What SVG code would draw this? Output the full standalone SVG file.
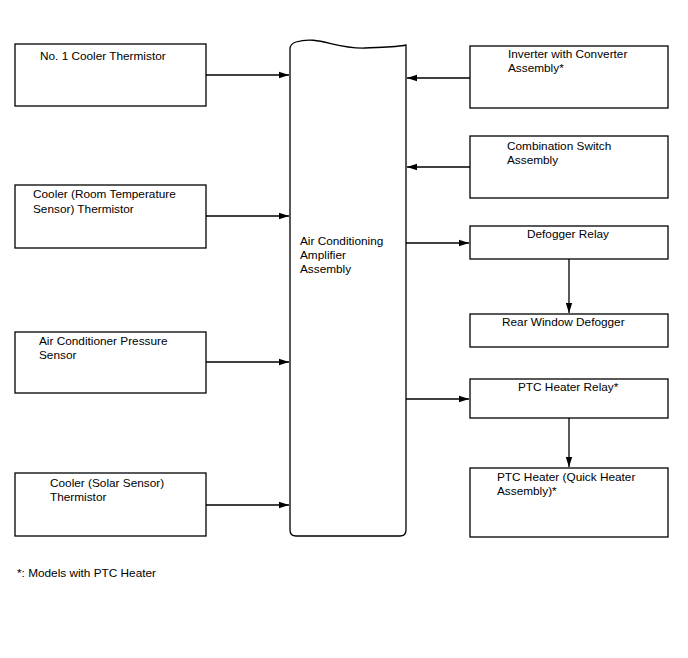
<svg xmlns="http://www.w3.org/2000/svg" width="688" height="658" viewBox="0 0 688 658">
<style>
.box{fill:#fff;stroke:#000;stroke-width:1.3}
.t{font-family:"Liberation Sans",Arial,sans-serif;font-size:11.8px;fill:#000}
.c{stroke:#000;stroke-width:1.3;fill:none;marker-end:url(#ah)}
</style>
<defs>
<marker id="ah" markerWidth="10" markerHeight="8" refX="10" refY="4" orient="auto" markerUnits="userSpaceOnUse">
<path d="M0,0.8 L10,4 L0,7.2 Z" fill="#000"/>
</marker>
</defs>
<rect width="688" height="658" fill="#fff"/>
<g id="connectors">
<line class="c" x1="206" y1="75" x2="289" y2="75"/>
<line class="c" x1="206" y1="216" x2="289" y2="216"/>
<line class="c" x1="206" y1="362" x2="289" y2="362"/>
<line class="c" x1="206" y1="505" x2="289" y2="505"/>
<line class="c" x1="470" y1="78" x2="407" y2="78"/>
<line class="c" x1="470" y1="167" x2="407" y2="167"/>
<line class="c" x1="406" y1="243" x2="469" y2="243"/>
<line class="c" x1="406" y1="399" x2="469" y2="399"/>
<line class="c" x1="569" y1="259" x2="569" y2="313"/>
<line class="c" x1="569" y1="418" x2="569" y2="467"/>
</g>
<g id="n1"><rect class="box" x="15" y="44" width="191" height="62"/><text class="t" x="40" y="60">No. 1 Cooler Thermistor</text></g>
<g id="n2"><rect class="box" x="15" y="185" width="191" height="63"/><text class="t" x="33" y="198">Cooler (Room Temperature</text><text class="t" x="33" y="213">Sensor) Thermistor</text></g>
<g id="n3"><rect class="box" x="15" y="332" width="191" height="61"/><text class="t" x="39" y="345">Air Conditioner Pressure</text><text class="t" x="39" y="359">Sensor</text></g>
<g id="n4"><rect class="box" x="15" y="473" width="191" height="63"/><text class="t" x="50" y="487">Cooler (Solar Sensor)</text><text class="t" x="50" y="501">Thermistor</text></g>
<g id="amp"><path class="box" d="M290,49 Q290,44 296,42 C318,35 335,49 365,48 C388,47 398,47 406,45 L406,530 Q406,536 400,536 L296,536 Q290,536 290,530 Z"/><text class="t" x="300" y="245">Air Conditioning</text><text class="t" x="300" y="259">Amplifier</text><text class="t" x="300" y="273">Assembly</text></g>
<g id="r1"><rect class="box" x="470" y="46" width="198" height="62"/><text class="t" x="508" y="58">Inverter with Converter</text><text class="t" x="508" y="72">Assembly*</text></g>
<g id="r2"><rect class="box" x="470" y="136" width="198" height="62"/><text class="t" x="507" y="150">Combination Switch</text><text class="t" x="507" y="164">Assembly</text></g>
<g id="r3"><rect class="box" x="470" y="226" width="198" height="33"/><text class="t" x="527" y="238">Defogger Relay</text></g>
<g id="r4"><rect class="box" x="470" y="314" width="198" height="33"/><text class="t" x="502" y="326">Rear Window Defogger</text></g>
<g id="r5"><rect class="box" x="470" y="379" width="198" height="39"/><text class="t" x="518" y="391">PTC Heater Relay*</text></g>
<g id="r6"><rect class="box" x="470" y="468" width="198" height="69"/><text class="t" x="497" y="481">PTC Heater (Quick Heater</text><text class="t" x="497" y="495">Assembly)*</text></g>
<text class="t" x="17" y="577">*: Models with PTC Heater</text>
</svg>
